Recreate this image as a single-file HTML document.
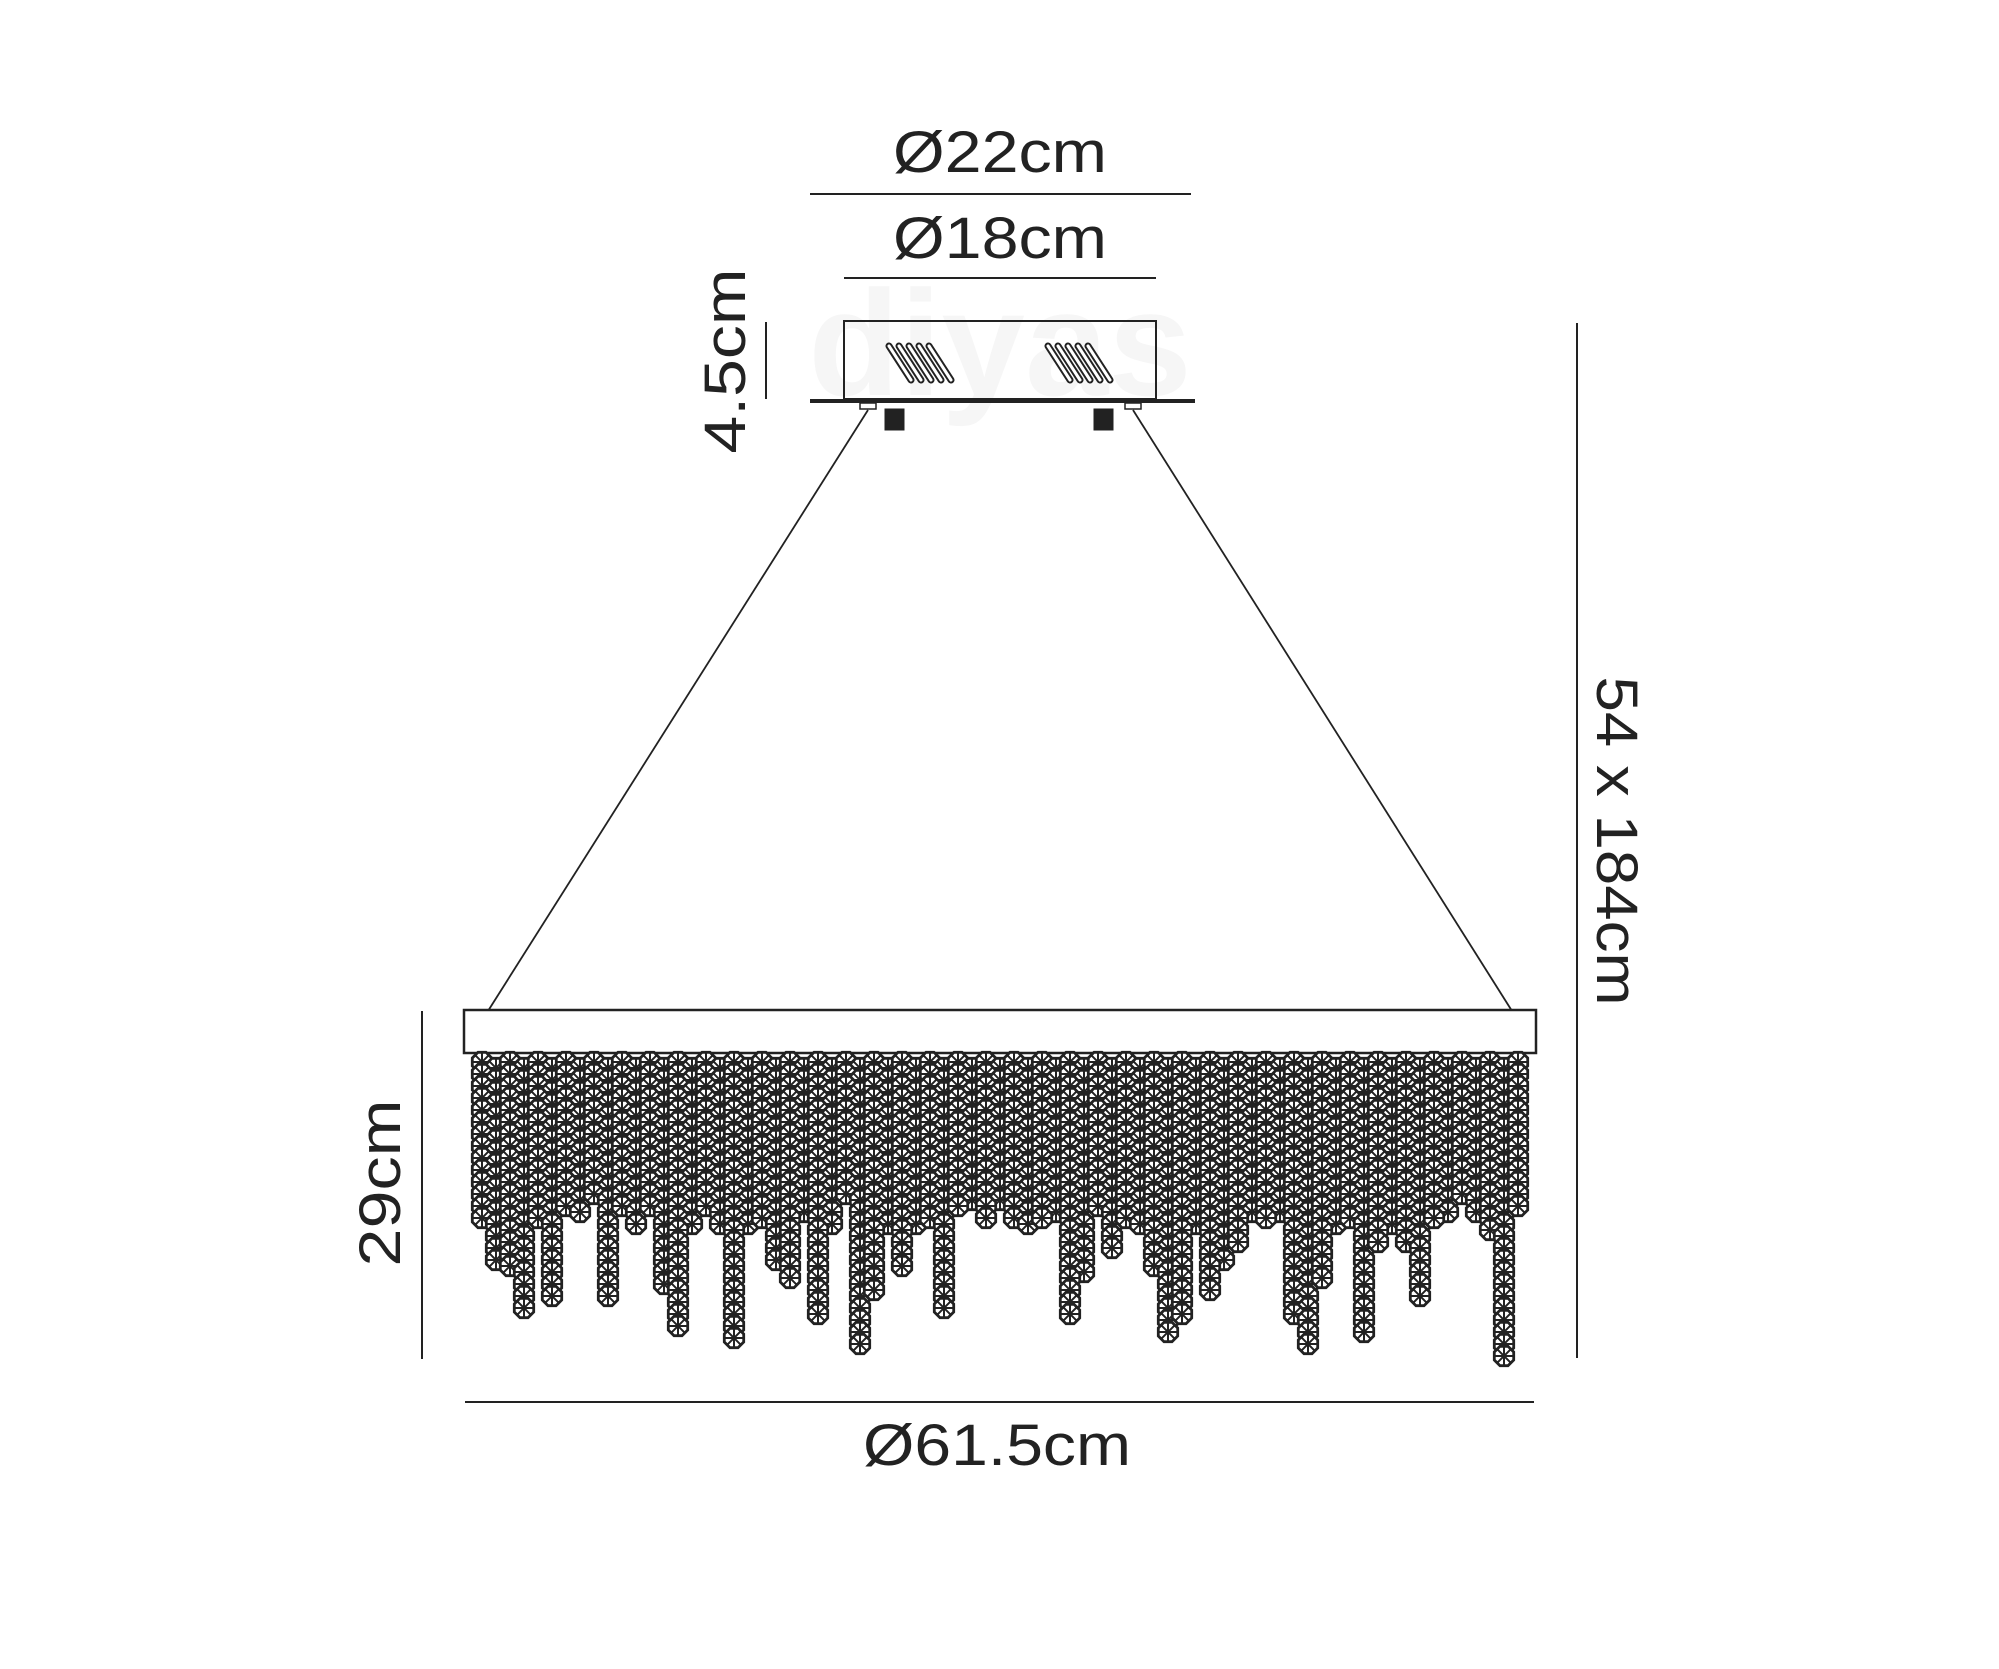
<!DOCTYPE html>
<html><head><meta charset="utf-8"><style>
html,body{margin:0;padding:0;background:#fff;}
svg{display:block;}
text{font-family:"Liberation Sans",sans-serif;fill:#222;}
</style></head><body>
<svg id="s" width="1999" height="1669" viewBox="0 0 1999 1669" xmlns="http://www.w3.org/2000/svg">
<rect width="1999" height="1669" fill="#fff"/>
<text x="1000" y="395" font-size="150" style="fill:#f6f6f6" text-anchor="middle" font-weight="bold">diyas</text>
<g stroke="#222" fill="none">
<text x="1000" y="172" font-size="58" text-anchor="middle" stroke="none" textLength="214" lengthAdjust="spacingAndGlyphs">Ø22cm</text>
<line x1="810" y1="194" x2="1191" y2="194" stroke-width="2"/>
<text x="1000" y="258" font-size="58" text-anchor="middle" stroke="none" textLength="214" lengthAdjust="spacingAndGlyphs">Ø18cm</text>
<line x1="844" y1="278" x2="1156" y2="278" stroke-width="2"/>
<rect x="844" y="321" width="312" height="78" stroke-width="2" fill="none"/>
<line x1="810" y1="401" x2="1195" y2="401" stroke-width="4"/>
<line x1="766" y1="322" x2="766" y2="399" stroke-width="2"/>
<text transform="translate(745,361) rotate(-90)" font-size="58" text-anchor="middle" stroke="none" textLength="185" lengthAdjust="spacingAndGlyphs">4.5cm</text>
<g id="v1"></g>
<line x1="868" y1="410" x2="488" y2="1011" stroke-width="1.8"/>
<line x1="1133" y1="410" x2="1512" y2="1011" stroke-width="1.8"/>
<rect x="860" y="403" width="16" height="6" stroke-width="1.5"/>
<rect x="1125" y="403" width="16" height="6" stroke-width="1.5"/>
<rect x="885" y="409" width="19" height="21" fill="#222"/>
<rect x="1094" y="409" width="19" height="21" fill="#222"/>
<rect x="464" y="1010" width="1072" height="43" stroke-width="2.5" fill="#fff"/>
<g id="cr" stroke-width="2.8" fill="#fff"></g>
<line x1="422" y1="1011" x2="422" y2="1359" stroke-width="2"/>
<text transform="translate(400,1183) rotate(-90)" font-size="58" text-anchor="middle" stroke="none" textLength="167" lengthAdjust="spacingAndGlyphs">29cm</text>
<line x1="465" y1="1402" x2="1534" y2="1402" stroke-width="2"/>
<text x="997" y="1465" font-size="58" text-anchor="middle" stroke="none" textLength="268" lengthAdjust="spacingAndGlyphs">Ø61.5cm</text>
<line x1="1577" y1="323" x2="1577" y2="1358" stroke-width="2"/>
<text transform="translate(1597,841) rotate(90)" font-size="58" text-anchor="middle" stroke="none" textLength="329" lengthAdjust="spacingAndGlyphs">54 x 184cm</text>
</g>
</svg>
<script>
var NS="http://www.w3.org/2000/svg";
function el(p,t,a){var e=document.createElementNS(NS,t);for(var k in a)e.setAttribute(k,a[k]);p.appendChild(e);return e;}
var v=document.getElementById('v1');
[[889,959],[1048,1118]].forEach(function(r){
 for(var i=0;i<5;i++){var x=r[0]+i*10;
  el(v,'path',{d:'M'+x+' 346 L'+(x+22)+' 380','stroke-width':'7','stroke-linecap':'round'});
  el(v,'path',{d:'M'+x+' 346 L'+(x+22)+' 380','stroke':'#fff','stroke-width':'3','stroke-linecap':'round'});}
});
var g=document.getElementById('cr');
function oct(cx,cy){
 var r=10.5,p=[];for(var i=0;i<8;i++){var a=Math.PI/8+i*Math.PI/4;p.push((cx+r*Math.cos(a)).toFixed(1)+','+(cy+r*Math.sin(a)).toFixed(1));}
 el(g,'polygon',{points:p.join(' ')});
 var d='';for(var i=0;i<4;i++){var a=i*Math.PI/4;d+='M'+(cx-9*Math.cos(a)).toFixed(1)+' '+(cy-9*Math.sin(a)).toFixed(1)+'L'+(cx+9*Math.cos(a)).toFixed(1)+' '+(cy+9*Math.sin(a)).toFixed(1);}
 el(g,'path',{d:d,'stroke-width':'2'});
}
var seed=11;function rnd(){seed=(seed*9301+49297)%233280;return seed/233280;}
var cols=[];for(var x=482;x<=1518;x+=14)cols.push(x);
var ends=cols.map(function(x,i){var b=1200+rnd()*30;if(rnd()<0.4)b=1235+rnd()*125;return Math.min(b,1358);});
for(var y=1062;y<=1360;y+=12){
 cols.forEach(function(x,i){
  if(y<=ends[i])oct(x,y+((i%2)?6:0));
 });
}
</script>
</body></html>
